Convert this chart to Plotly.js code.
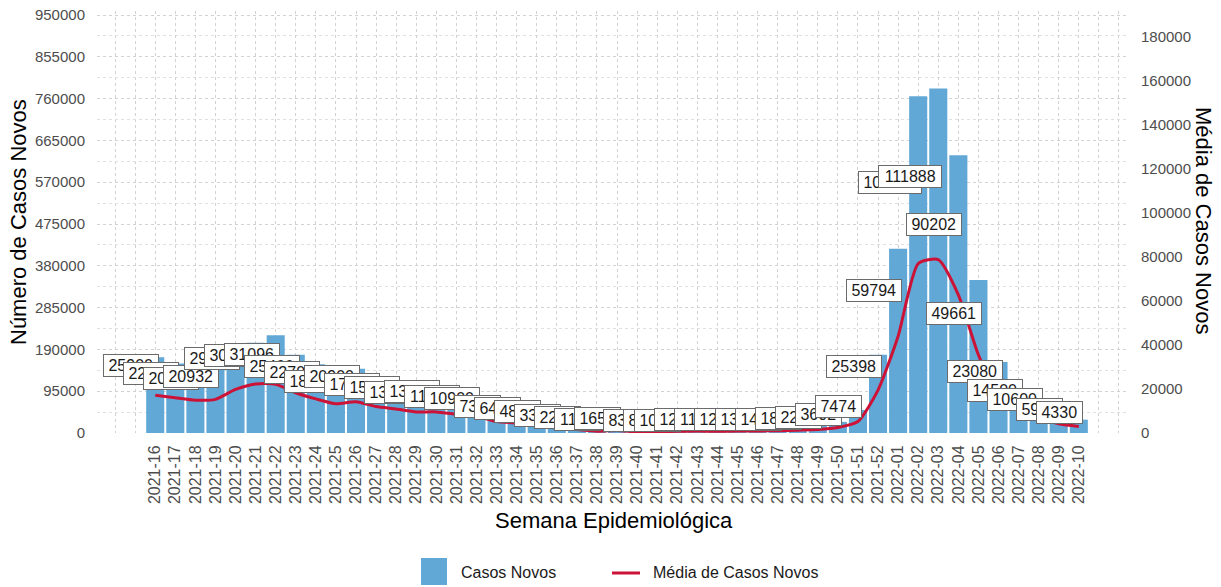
<!DOCTYPE html>
<html>
<head>
<meta charset="utf-8">
<script src="https://cdn.plot.ly/plotly-3.0.1.min.js"></script>
<style>
  html, body { margin: 0; padding: 0; background: #fff; }
  #chart { width: 1221px; height: 587px; }
</style>
</head>
<body>
<div id="chart"></div>
<script>
// Semanas epidemiológicas (categorias do eixo x)
const semanas = [
  '2021-16','2021-17','2021-18','2021-19','2021-20','2021-21','2021-22','2021-23','2021-24','2021-25',
  '2021-26','2021-27','2021-28','2021-29','2021-30','2021-31','2021-32','2021-33','2021-34','2021-35',
  '2021-36','2021-37','2021-38','2021-39','2021-40','2021-41','2021-42','2021-43','2021-44','2021-45',
  '2021-46','2021-47','2021-48','2021-49','2021-50','2021-51','2021-52','2022-01','2022-02','2022-03',
  '2022-04','2022-05','2022-06','2022-07','2022-08','2022-09','2022-10'
];

// Casos novos por semana (barras, eixo esquerdo)
const casosNovos = [
  172000, 158000, 146000, 148000, 193000, 205000, 222000, 178000, 156000, 130200,
  146300, 120400, 110600, 95200, 97650, 83300, 76300, 51450, 45150, 33950,
  23450, 15750, 8050, 11550, 5810, 5670, 7350, 8610, 8050, 8680,
  9310, 10150, 12950, 15750, 25214, 52318, 177786, 418558, 765100, 783216,
  631414, 347627, 161560, 101500, 74200, 41650, 30310
];

// Média de casos novos (linha, eixo direito)
const mediaCasosNovos = [
  17200, 16000, 14900, 15300, 19800, 22300, 22200, 18300, 15500, 13300,
  14200, 12000, 10900, 9600, 9600, 8600, 7700, 5200, 4500, 3400,
  2300, 1600, 800, 1150, 580, 570, 740, 860, 800, 870,
  930, 1020, 1300, 1580, 2520, 5230, 19500, 44000, 77000, 78800,
  62800, 35500, 16200, 10150, 7400, 4200, 3000
];

// Rótulos (média diária), posicionados no eixo direito
const rotulos = [
  25900, 22500, 20100, 20932, 29100, 30600, 31096, 25400, 22700, 18600,
  20900, 17200, 15800, 13600, 13950, 11900, 10900, 7350, 6450, 4850,
  3350, 2250, 1150, 1650, 830, 810, 1050, 1230, 1150, 1240,
  1330, 1450, 1850, 2250, 3602, 7474, 25398, 59794, 109300, 111888,
  90202, 49661, 23080, 14500, 10600, 5950, 4330
];

// Marcas dos eixos
const ticksEsq = [0, 95000, 190000, 285000, 380000, 475000, 570000, 665000, 760000, 855000, 950000];
const ticksDir = [0, 20000, 40000, 60000, 80000, 100000, 120000, 140000, 160000, 180000];

const FONT = 'Liberation Sans, Arial, Helvetica, sans-serif';
const BAR_COLOR = '#62A8D6';
const LINE_COLOR = '#CC1236';
const GRID = '#d2d2d2';

const pos = semanas.map((s, i) => i);

const traces = [
  {
    type: 'bar', x: pos, y: casosNovos, name: 'Casos Novos',
    marker: { color: BAR_COLOR }, showlegend: false, hoverinfo: 'y'
  },
  {
    type: 'scatter', mode: 'lines', x: pos, y: mediaCasosNovos, yaxis: 'y2',
    name: 'Média de Casos Novos', showlegend: false,
    line: { color: LINE_COLOR, width: 3, shape: 'spline', smoothing: 0.6 }
  }
];

const LEFT = 97, RIGHT = 1127, TOP = 11, BOTTOM = 433, W = 1221, H = 587;
const plotW = RIGHT - LEFT, plotH = BOTTOM - TOP;
const yMax = 950000 * plotH / (BOTTOM - 15);
const px2x = p => (p - LEFT) / plotW;
const px2y = p => (BOTTOM - p) / plotH;

const labelAnns = rotulos.map((v, i) => ({
  x: pos[i], y: v, xref: 'x', yref: 'y2',
  text: String(v), showarrow: false,
  xanchor: 'right', yanchor: 'bottom', xshift: 4, yshift: -1,
  bgcolor: '#ffffff', bordercolor: '#6b6b6b', borderwidth: 1, borderpad: 2,
  width: String(v).length * 8.9 + 5,
  font: { family: FONT, size: 16, color: '#1a1a1a' }
}));

const titleAnns = [
  { text: 'Número de Casos Novos', xref: 'paper', yref: 'paper', x: px2x(18), y: 0.5,
    textangle: -90, showarrow: false, xanchor: 'center', yanchor: 'middle',
    font: { family: FONT, size: 22, color: '#000' } },
  { text: 'Média de Casos Novos', xref: 'paper', yref: 'paper', x: px2x(1203), y: px2y(220),
    textangle: 90, showarrow: false, xanchor: 'center', yanchor: 'middle',
    font: { family: FONT, size: 22, color: '#000' } },
  { text: 'Semana Epidemiológica', xref: 'paper', yref: 'paper', x: px2x(614), y: px2y(520),
    showarrow: false, xanchor: 'center', yanchor: 'middle',
    font: { family: FONT, size: 22, color: '#000' } },
  // legenda
  { text: 'Casos Novos', xref: 'paper', yref: 'paper', x: px2x(459), y: px2y(572),
    showarrow: false, xanchor: 'left', yanchor: 'middle',
    font: { family: FONT, size: 16, color: '#1a1a1a' } },
  { text: 'Média de Casos Novos', xref: 'paper', yref: 'paper', x: px2x(651), y: px2y(572),
    showarrow: false, xanchor: 'left', yanchor: 'middle',
    font: { family: FONT, size: 16, color: '#1a1a1a' } }
];

const shapes = [
  { type: 'rect', xref: 'paper', yref: 'paper', x0: px2x(421), x1: px2x(447), y0: px2y(558), y1: px2y(585),
    fillcolor: BAR_COLOR, line: { width: 0 } },
  { type: 'line', xref: 'paper', yref: 'paper', x0: px2x(612), x1: px2x(640), y0: px2y(573), y1: px2y(573),
    line: { color: LINE_COLOR, width: 3 } }
];

const layout = {
  width: W, height: H,
  margin: { l: LEFT, r: W - RIGHT, t: TOP, b: H - BOTTOM, pad: 0 },
  paper_bgcolor: '#ffffff', plot_bgcolor: '#ffffff',
  bargap: 0.1,
  showlegend: false,
  xaxis: {
    range: [-2.9, 48.4], tickmode: 'array', tickvals: pos, ticktext: semanas,
    tickangle: -90, tickfont: { family: FONT, size: 16, color: '#4d4d4d' },
    ticks: 'outside', ticklen: 5, tickcolor: 'rgba(0,0,0,0)',
    showgrid: true, gridcolor: GRID, griddash: 'dot', gridwidth: 1,
    minor: { dtick: 1, tick0: 0, showgrid: true, gridcolor: GRID, griddash: 'dot', gridwidth: 1 },
    zeroline: false, showline: false, fixedrange: true
  },
  yaxis: {
    range: [0, yMax], tickmode: 'array', tickvals: ticksEsq, ticktext: ticksEsq.map(String),
    tickfont: { family: FONT, size: 15, color: '#4d4d4d' },
    ticks: 'outside', ticklen: 8, tickcolor: 'rgba(0,0,0,0)',
    showgrid: true, gridcolor: GRID, griddash: 'dot', gridwidth: 1,
    minor: { dtick: 47500, tick0: 0, showgrid: true, gridcolor: '#e0e0e0', griddash: 'dot', gridwidth: 1 },
    zeroline: false, showline: false, fixedrange: true
  },
  yaxis2: {
    overlaying: 'y', side: 'right', range: [0, yMax / 5],
    tickmode: 'array', tickvals: ticksDir, ticktext: ticksDir.map(String),
    tickfont: { family: FONT, size: 15, color: '#4d4d4d' },
    ticks: 'outside', ticklen: 10, tickcolor: 'rgba(0,0,0,0)',
    showgrid: false, zeroline: false, showline: false, fixedrange: true
  },
  annotations: labelAnns.concat(titleAnns),
  shapes: shapes
};

Plotly.newPlot('chart', traces, layout, { displayModeBar: false, staticPlot: true });
</script>
</body>
</html>
